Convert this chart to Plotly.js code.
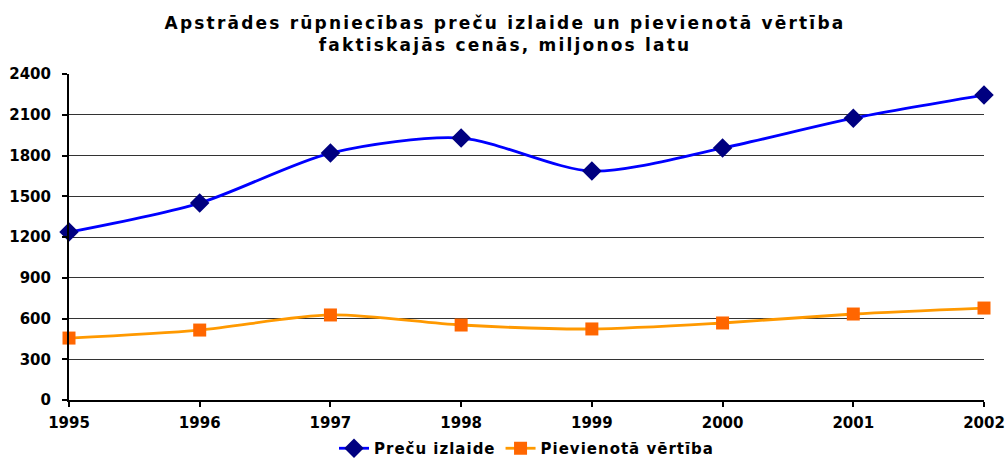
<!DOCTYPE html>
<html>
<head>
<meta charset="utf-8">
<script src="https://cdn.plot.ly/plotly-3.0.1.min.js"></script>
<style>
html,body{margin:0;padding:0;background:#fff;}
#chart{width:1008px;height:460px;}
.gtitle{letter-spacing:2.2px;}
.legendtext{letter-spacing:1px;}
</style>
</head>
<body>
<div id="chart"></div>
<script>
const years = [1995, 1996, 1997, 1998, 1999, 2000, 2001, 2002];
const precuIzlaide = [1236, 1450, 1818, 1928, 1685, 1855, 2075, 2245];
const pievienotaVertiba = [456, 515, 626, 552, 523, 567, 633, 677];
const yTicks = [0, 300, 600, 900, 1200, 1500, 1800, 2100, 2400];
const seriesNames = ['Preču izlaide', 'Pievienotā vērtība'];

const FAMILY = 'DejaVu Sans, Verdana, sans-serif';
const font = {family: FAMILY, size: 15, color: '#000', weight: 'bold'};

const traces = [
  {
    x: years, y: precuIzlaide, name: seriesNames[0], type: 'scatter', mode: 'lines+markers',
    line: {color: '#0000FF', width: 2.8, shape: 'spline', smoothing: 0.8},
    marker: {symbol: 'diamond', size: 15, color: '#000080'},
    cliponaxis: false
  },
  {
    x: years, y: pievienotaVertiba, name: seriesNames[1], type: 'scatter', mode: 'lines+markers',
    line: {color: '#FF9900', width: 2.8, shape: 'spline', smoothing: 0.8},
    marker: {symbol: 'square', size: 13, color: '#FF6600'},
    cliponaxis: false
  }
];

const layout = {
  width: 1008, height: 460,
  margin: {l: 69, r: 24, t: 74, b: 60, autoexpand: false},
  paper_bgcolor: '#fff', plot_bgcolor: '#fff',
  font: font,
  title: {
    text: 'Apstrādes rūpniecības preču izlaide un pievienotā vērtība<br>faktiskajās cenās, miljonos latu',
    font: {family: FAMILY, size: 17, color: '#000', weight: 'bold'},
    x: 505 / 1008, xref: 'container', xanchor: 'center', yref: 'container', y: 1 - 29 / 460, yanchor: 'top'
  },
  xaxis: {
    range: [1995, 2002], tickvals: years, ticktext: years.map(String),
    showgrid: false, zeroline: false,
    showline: true, linecolor: '#000', linewidth: 2,
    ticks: 'outside', ticklen: 5, tickwidth: 2, tickcolor: '#000',
    ticklabelstandoff: 3,
    tickfont: font, fixedrange: true
  },
  yaxis: {
    range: [0, 2400], tickvals: yTicks, ticktext: yTicks.map(String),
    showgrid: true, gridcolor: '#333', gridwidth: 1, zeroline: false,
    showline: true, linecolor: '#000', linewidth: 2,
    ticks: 'outside', ticklen: 5, tickwidth: 2, tickcolor: '#000',
    ticklabelstandoff: 8,
    tickfont: font, fixedrange: true
  },
  legend: {
    orientation: 'h', x: 0.5, xanchor: 'center', yref: 'container', y: 1 - 432 / 460, yanchor: 'top',
    font: {family: FAMILY, size: 15, color: '#000', weight: 'bold'},
    tracegroupgap: 0
  },
  showlegend: true
};

Plotly.newPlot('chart', traces, layout, {displayModeBar: false, staticPlot: true});
</script>
</body>
</html>
